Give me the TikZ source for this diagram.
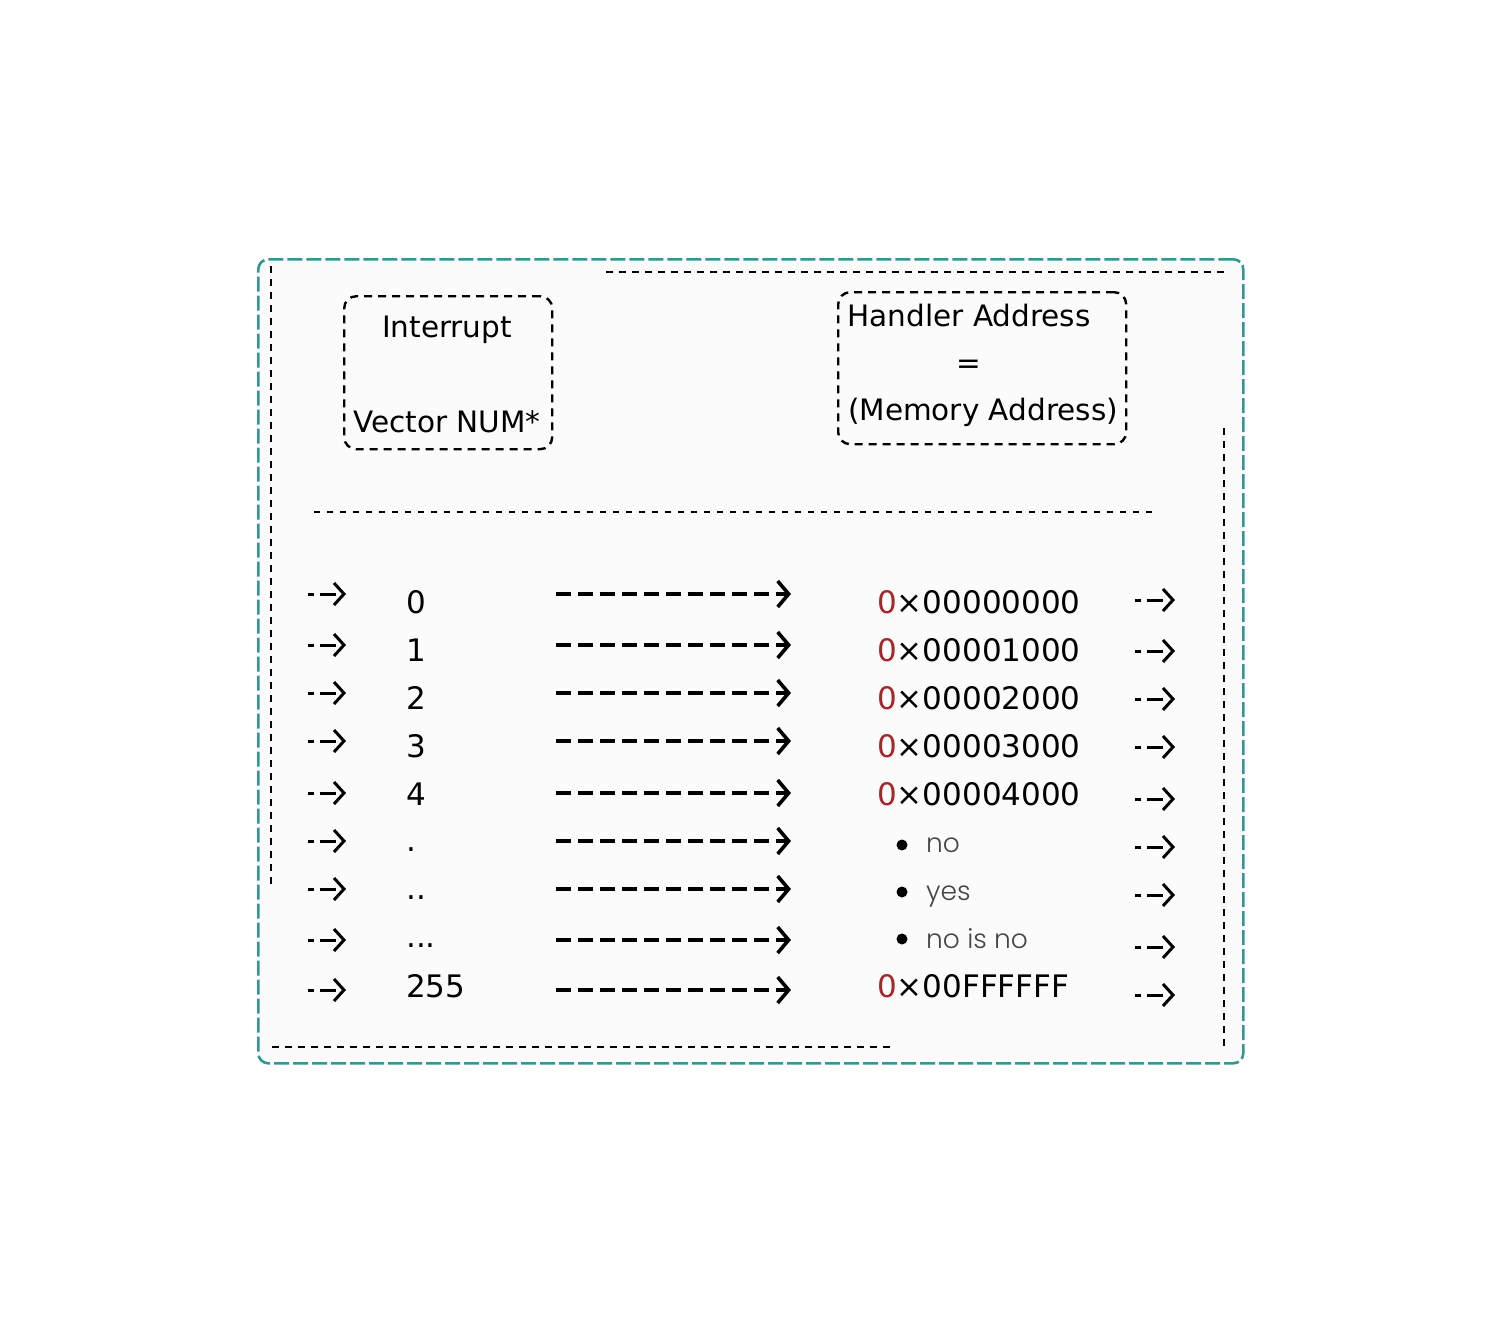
\documentclass[tikz,border=0pt]{standalone}
\usepackage{fontspec}
\setmainfont{DejaVu Sans}
\newfontfamily\lightfont{Poppins Light}
\usetikzlibrary{arrows.meta}
\definecolor{teal1}{RGB}{52,150,145}
\definecolor{addrred}{RGB}{165,40,40}
\definecolor{bgin}{RGB}{251,251,251}
\definecolor{greytxt}{RGB}{70,70,70}
\newcommand\mydotone{.}
\newcommand\mydottwo{..}
\newcommand\mydotthree{...}
\tikzset{
  outerframe/.style={draw=teal1,line width=2.6pt,dash pattern=on 15pt off 4pt,rounded corners=10pt,fill=bgin},
  innerline/.style={draw=black,line width=2.4pt,dash pattern=on 7pt off 6pt},
  headbox/.style={draw=black,line width=2.4pt,dash pattern=on 8pt off 6pt,rounded corners=12pt,inner sep=0pt},
  sepline/.style={draw=black,line width=2.4pt,dash pattern=on 6pt off 7pt},
  longarr/.style={draw=black,line width=3.6pt,dash pattern=on 15pt off 7pt,-{Straight Barb[length=11pt,width=26pt,line width=3.6pt]}},
  smallarr/.style={draw=black,line width=3pt,dash pattern=on 6pt off 6pt on 16pt off 40pt,-{Straight Barb[length=10pt,width=22pt,line width=3pt]}},
  numtxt/.style={inner sep=0pt,anchor=base west,font=\fontsize{31}{36}\selectfont},
  headtxt/.style={inner sep=0pt,anchor=base,font=\fontsize{29.5}{36}\selectfont},
  lighttxt/.style={inner sep=0pt,anchor=base west,text=greytxt,font=\lightfont\fontsize{26.5}{32}\selectfont},
}
\begin{document}
\begin{tikzpicture}[x=1pt,y=-1pt]
\useasboundingbox (0,0) rectangle (1500,1320);
\fill[white] (0,0) rectangle (1500,1320);
% outer frame
\node[outerframe,minimum width=985pt,minimum height=804pt,anchor=north west,inner sep=0pt] (frame) at (257,258) {};
% inner dashed frame lines
\coordinate (il1) at (271,266); \coordinate (il2) at (271,885);
\coordinate (it1) at (606,272); \coordinate (it2) at (1226,272);
\coordinate (ir1) at (1224,428); \coordinate (ir2) at (1224,1047);
\coordinate (ib1) at (272,1047); \coordinate (ib2) at (892,1047);
\draw[innerline] (il1) -- (il2);
\draw[innerline] (it1) -- (it2);
\draw[innerline] (ir1) -- (ir2);
\draw[innerline] (ib1) -- (ib2);
% header boxes
\node[headbox,minimum width=208pt,minimum height=153pt,anchor=north west] (hb1) at (343,295) {};
\node[headbox,minimum width=288pt,minimum height=152pt,anchor=north west] (hb2) at (837,291) {};
\node[headtxt] (t1) at (447,337) {Interrupt};
\node[headtxt] (t2) at (447,432) {Vector NUM*};
\node[headtxt] (t3) at (969,326) {Handler Address};
\node[headtxt] (t4) at (969,373) {=};
\node[headtxt] (t5) at (983,420) {(Memory Address)};
% separator
\coordinate (s1) at (314,512); \coordinate (s2) at (1155,512);
\draw[sepline] (s1) -- (s2);
% rows
\foreach \i/\ay/\by/\ry/\lab in {1/594/613/600/0, 2/645/661/651/1, 3/693/709/699/2, 4/741/757/747/3, 5/793/805/799/4, 6/841/851/847/\mydotone, 7/889/899/895/\mydottwo, 8/940/947/947/\mydotthree, 9/990/997/995/255}{
  \coordinate (la\i s) at (308,\ay); \coordinate (la\i e) at (346,\ay);
  \draw[smallarr] (la\i s) -- (la\i e);
  \node[numtxt] (n\i) at (406,\by) {\lab};
  \coordinate (lg\i s) at (556,\ay); \coordinate (lg\i e) at (791,\ay);
  \draw[longarr] (lg\i s) -- (lg\i e);
  \coordinate (ra\i s) at (1135,\ry); \coordinate (ra\i e) at (1175,\ry);
  \draw[smallarr] (ra\i s) -- (ra\i e);
}
% addresses
\foreach \i/\by/\val in {1/613/00000000, 2/661/00001000, 3/709/00002000, 4/757/00003000, 5/805/00004000, 9/997/00FFFFFF}{
  \node[numtxt] (a\i) at (877,\by) {\textcolor{addrred}{0}×\val};
}
% bullet list
\foreach \i/\cy/\by/\txt in {6/845/852/no, 7/892/900/yes, 8/939/948/no is no}{
  \fill (902,\cy) circle (5.5pt);
  \node[lighttxt] (b\i) at (926,\by) {\txt};
}
\end{tikzpicture}
\end{document}
